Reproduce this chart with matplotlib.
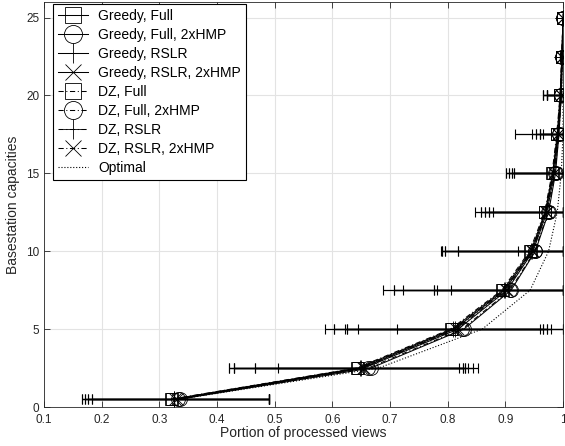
import numpy as np
import matplotlib
matplotlib.use('Agg')
import matplotlib.pyplot as plt

plt.rcParams['font.family'] = ['Liberation Sans', 'DejaVu Sans']

# basestation capacities (y positions)
capacities = [0.5, 2.5, 5, 7.5, 10, 12.5, 15, 17.5, 20, 22.5, 25]

# mean portion of processed views per method
greedy_full    = [0.322, 0.645, 0.808, 0.896, 0.944, 0.969, 0.982, 0.990, 0.995, 0.998, 1.0]
greedy_full_2x = [0.335, 0.667, 0.828, 0.910, 0.952, 0.975, 0.987, 0.993, 0.997, 0.999, 1.0]
greedy_rslr    = [0.326, 0.650, 0.812, 0.899, 0.946, 0.970, 0.983, 0.991, 0.996, 0.998, 1.0]
greedy_rslr_2x = [0.330, 0.655, 0.818, 0.903, 0.948, 0.972, 0.985, 0.992, 0.996, 0.999, 1.0]
dz_full        = [0.320, 0.642, 0.805, 0.894, 0.942, 0.968, 0.981, 0.989, 0.995, 0.998, 1.0]
dz_full_2x     = [0.333, 0.662, 0.825, 0.908, 0.951, 0.974, 0.986, 0.993, 0.997, 0.999, 1.0]
dz_rslr        = [0.325, 0.648, 0.810, 0.898, 0.945, 0.970, 0.983, 0.991, 0.995, 0.998, 1.0]
dz_rslr_2x     = [0.328, 0.653, 0.815, 0.901, 0.947, 0.971, 0.984, 0.991, 0.996, 0.998, 1.0]
optimal        = [0.335, 0.680, 0.860, 0.943, 0.975, 0.990, 0.997, 1.0, 1.0, 1.0, 1.0]

# min / max of each method
greedy_full_lo    = [0.166, 0.420, 0.587, 0.687, 0.788, 0.847, 0.902, 0.917, 0.966, 0.995, 1.0]
greedy_full_hi    = [0.490, 0.820, 0.960, 1.0, 1.0, 1.0, 1.0, 1.0, 1.0, 1.0, 1.0]
greedy_full_2x_lo = [0.171, 0.429, 0.603, 0.707, 0.791, 0.857, 0.907, 0.946, 0.972, 0.996, 1.0]
greedy_full_2x_hi = [0.490, 0.852, 0.979, 1.0, 1.0, 1.0, 1.0, 1.0, 1.0, 1.0, 1.0]
greedy_rslr_lo    = [0.176, 0.466, 0.622, 0.723, 0.795, 0.865, 0.911, 0.954, 0.972, 0.996, 1.0]
greedy_rslr_hi    = [0.490, 0.826, 0.966, 1.0, 1.0, 1.0, 1.0, 1.0, 1.0, 1.0, 1.0]
greedy_rslr_2x_lo = [0.183, 0.505, 0.626, 0.776, 0.818, 0.872, 0.915, 0.960, 0.972, 0.997, 1.0]
greedy_rslr_2x_hi = [0.490, 0.844, 0.972, 1.0, 1.0, 1.0, 1.0, 1.0, 1.0, 1.0, 1.0]
dz_full_lo        = [0.166, 0.420, 0.645, 0.782, 0.922, 0.879, 0.902, 0.960, 0.966, 0.995, 1.0]
dz_full_hi        = [0.490, 0.830, 1.0, 1.0, 1.0, 1.0, 1.0, 1.0, 1.0, 1.0, 1.0]
dz_full_2x_lo     = [0.171, 0.429, 0.712, 0.806, 0.818, 0.872, 0.915, 0.966, 0.972, 0.996, 1.0]
dz_full_2x_hi     = [0.490, 0.835, 1.0, 1.0, 1.0, 1.0, 1.0, 1.0, 1.0, 1.0, 1.0]
dz_rslr_lo        = [0.176, 0.429, 0.603, 0.707, 0.795, 0.857, 0.907, 0.954, 0.966, 0.995, 1.0]
dz_rslr_hi        = [0.490, 0.826, 0.966, 1.0, 1.0, 1.0, 1.0, 1.0, 1.0, 1.0, 1.0]
dz_rslr_2x_lo     = [0.183, 0.466, 0.626, 0.776, 0.791, 0.865, 0.911, 0.960, 0.972, 0.996, 1.0]
dz_rslr_2x_hi     = [0.490, 0.830, 0.972, 1.0, 1.0, 1.0, 1.0, 1.0, 1.0, 1.0, 1.0]

labels = ['Greedy, Full', 'Greedy, Full, 2xHMP', 'Greedy, RSLR', 'Greedy, RSLR, 2xHMP',
          'DZ, Full', 'DZ, Full, 2xHMP', 'DZ, RSLR', 'DZ, RSLR, 2xHMP']

series = [(greedy_full, greedy_full_lo, greedy_full_hi),
          (greedy_full_2x, greedy_full_2x_lo, greedy_full_2x_hi),
          (greedy_rslr, greedy_rslr_lo, greedy_rslr_hi),
          (greedy_rslr_2x, greedy_rslr_2x_lo, greedy_rslr_2x_hi),
          (dz_full, dz_full_lo, dz_full_hi),
          (dz_full_2x, dz_full_2x_lo, dz_full_2x_hi),
          (dz_rslr, dz_rslr_lo, dz_rslr_hi),
          (dz_rslr_2x, dz_rslr_2x_lo, dz_rslr_2x_hi)]

markers = ['s', 'o', '+', 'x', 's', 'o', '+', 'x']
msizes = [8.5, 10, 11, 8.5, 8.5, 10, 11, 8.5]
dashdot = (0, (5, 2.5, 1, 2.5))
styles = ['-', '-', '-', '-', dashdot, dashdot, dashdot, dashdot]

fig = plt.figure(figsize=(5.65, 4.46), dpi=100)
ax = fig.add_axes([44 / 565, 1 - 407 / 446, 519 / 565, 405 / 446])

y = np.array(capacities)
handles = []
for (mean, lo, hi), lab, mk, ms, ls in zip(series, labels, markers, msizes, styles):
    mean = np.array(mean)
    xerr = [mean - np.array(lo), np.array(hi) - mean]
    ax.errorbar(mean, y, xerr=xerr, fmt='none', ecolor='k', elinewidth=0.9,
                capsize=3.5, capthick=0.8, zorder=2)
    h, = ax.plot(mean, y, color='k', linestyle=ls, linewidth=0.75, marker=mk,
                 markersize=ms, markerfacecolor='none', markeredgecolor='k',
                 markeredgewidth=0.6, label=lab, zorder=3)
    handles.append(h)

h, = ax.plot(optimal, y, color='k', linestyle=':', linewidth=0.8, label='Optimal', zorder=3)
handles.append(h)

ax.set_xlim(0.1, 1)
ax.set_ylim(0, 26)
ax.set_xticks(np.arange(0.1, 1.01, 0.1))
ax.set_xticklabels(['0.1', '0.2', '0.3', '0.4', '0.5', '0.6', '0.7', '0.8', '0.9', '1'])
ax.set_yticks([0, 5, 10, 15, 20, 25])
ax.grid(True, color='#e3e3e3', linewidth=0.8)
ax.set_axisbelow(True)
ax.tick_params(direction='in', top=True, right=True, labelsize=8.5, colors='#262626',
               length=4, width=0.6)
ax.tick_params(axis='x', pad=5)
for s in ax.spines.values():
    s.set_color('#262626')
    s.set_linewidth(0.6)
ax.set_xlabel('Portion of processed views', fontsize=10, color='#262626', labelpad=0)
ax.set_ylabel('Basestation capacities', fontsize=10, color='#262626', labelpad=4)

leg = ax.legend(handles=handles, loc='upper left', bbox_to_anchor=(0.017, 0.994),
                fontsize=10, frameon=True, fancybox=False, framealpha=1,
                borderaxespad=0, handlelength=2.2, handletextpad=0.7,
                labelspacing=0.36, borderpad=0.35, markerscale=1.3)
leg.get_frame().set_edgecolor('k')
leg.get_frame().set_linewidth(0.8)

fig.savefig('out.png', dpi=100)
